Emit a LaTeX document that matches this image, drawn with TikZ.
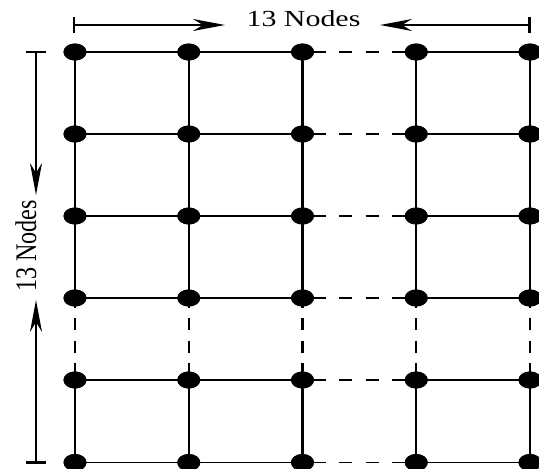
\documentclass[tikz,border=0pt]{standalone}
\usepackage{fontspec}
\setmainfont{Liberation Serif}
\usetikzlibrary{shapes.geometric,arrows.meta}
\begin{document}
\begin{tikzpicture}[x=1pt,y=-1pt,
  gridnode/.style={ellipse,fill=black,draw=none,minimum width=23pt,minimum height=17pt,inner sep=0pt},
  thickline/.style={line width=2.1pt},
  thinline/.style={line width=1.5pt},
  hdash/.style={dash pattern=on 13.3pt off 13.4pt,dash phase=17pt},
  vdash/.style={dash pattern=on 12pt off 10.5pt,dash phase=2.5pt},
  dimline/.style={line width=2.1pt},
  dimarrow/.style={dimline,-{Stealth[length=32pt,width=12pt,inset=10pt]}},
  lbl/.style={inner sep=0pt,font=\fontsize{23}{26}\selectfont}]
\useasboundingbox (0,0) rectangle (539,469);
% grid nodes
\foreach \r/\y in {1/52,2/134,3/216,4/298,5/380,6/462.5}{
  \foreach \c/\x in {1/75,2/188.75,3/302.5,4/416.25,5/530}{
    \node[gridnode] (n-\r-\c) at (\x,\y) {};
  }
}
% horizontal connectors
\foreach \r/\st in {1/thickline,2/thickline,3/thickline,4/thinline,5/thinline,6/thinline}{
  \draw[\st] (n-\r-1.center) -- (n-\r-2.center) -- (n-\r-3.center);
  \draw[\st,hdash] (n-\r-3.center) -- (n-\r-4.center);
  \draw[\st] (n-\r-4.center) -- (n-\r-5.center);
}
% vertical connectors
\foreach \c in {1,...,5}{
  \draw[thickline] (n-1-\c.center) -- (n-2-\c.center) -- (n-3-\c.center) -- (n-4-\c.center);
  \draw[thickline,vdash] (n-4-\c.center) -- (n-5-\c.center);
  \draw[thickline] (n-5-\c.center) -- (n-6-\c.center);
}
% redraw nodes on top
\foreach \r/\y in {1/52,2/134,3/216,4/298,5/380,6/462.5}{
  \foreach \c/\x in {1/75,2/188.75,3/302.5,4/416.25,5/530}{
    \node[gridnode] at (\x,\y) {};
  }
}
% top dimension
\coordinate (tl) at (74,25);
\coordinate (tlt) at (74,17);
\coordinate (tlb) at (74,32.5);
\coordinate (tr) at (529.5,25);
\coordinate (trt) at (529.5,17);
\coordinate (trb) at (529.5,32.5);
\coordinate (ta) at (225,25);
\coordinate (tb) at (380,25);
\draw[dimline] (tlt) -- (tlb);
\draw[dimline] (trt) -- (trb);
\draw[dimarrow] (tl) -- (ta);
\draw[dimarrow] (tr) -- (tb);
\node[lbl] (toplabel) at (303.5,19) {\scalebox{1.3}[1]{13 Nodes}};
% left dimension
\coordinate (lt) at (36,52);
\coordinate (ltl) at (26,52);
\coordinate (ltr) at (45.5,52);
\coordinate (lb) at (36,462.5);
\coordinate (lbl) at (26,462.5);
\coordinate (lbr) at (45.5,462.5);
\coordinate (la) at (36,195);
\coordinate (lc) at (36,300);
\draw[dimline] (ltl) -- (ltr);
\draw[dimline] (lbl) -- (lbr);
\draw[dimarrow] (lt) -- (la);
\draw[dimarrow] (lb) -- (lc);
\node[lbl,rotate=90] (leftlabel) at (26,246) {\scalebox{1.05}[1.3]{13 Nodes}};
\end{tikzpicture}
\end{document}
